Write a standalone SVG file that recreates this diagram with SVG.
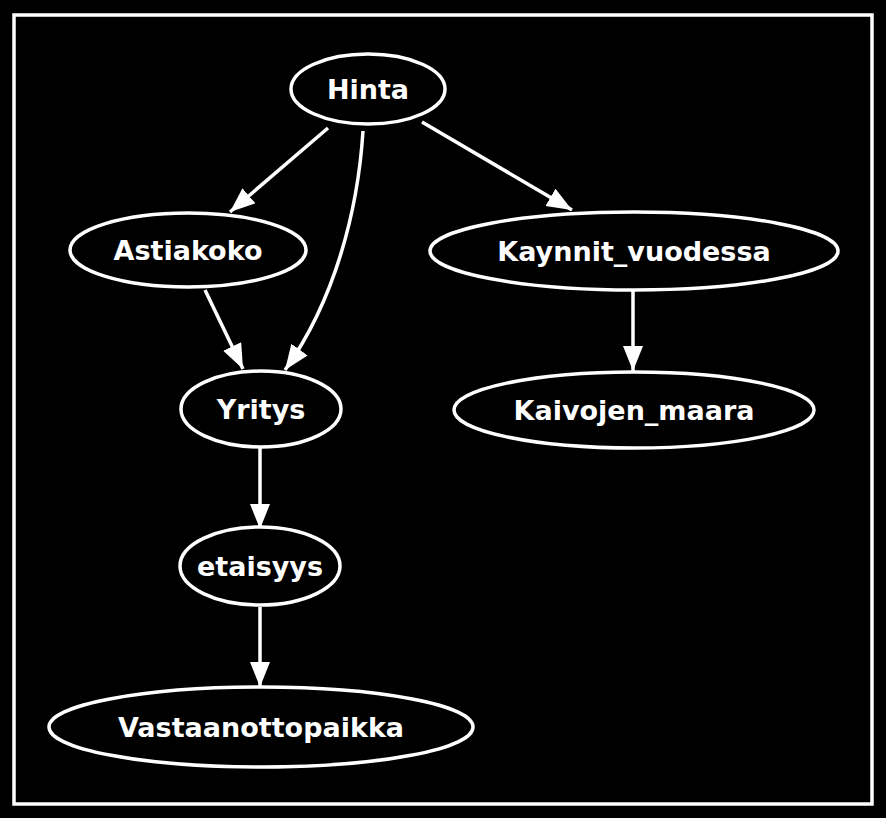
<svg xmlns="http://www.w3.org/2000/svg" width="886" height="818" viewBox="0 0 886 818">
<style>
.n ellipse{fill:#000;stroke:#fff;stroke-width:3.5}
.n text{fill:#fff;font-family:"DejaVu Sans",Verdana,sans-serif;font-weight:bold;font-size:27px;text-anchor:middle}
.e path{fill:none;stroke:#fff;stroke-width:3.5;marker-end:url(#ah)}
</style>
<defs>
<marker id="ah" markerUnits="userSpaceOnUse" markerWidth="27" markerHeight="22" refX="25" refY="10" orient="auto">
<path d="M0,0 L25,10 L0,20 Z" fill="#fff"/>
</marker>
</defs>
<rect x="0" y="0" width="886" height="818" fill="#000"/>
<rect x="14" y="15" width="858" height="789" fill="none" stroke="#fff" stroke-width="3.5"/>
<g class="e" id="edges">
<path d="M328,128 L230,212"/>
<path d="M363,131 C358,210 335,300 285,370"/>
<path d="M422,122 L572,210"/>
<path d="M205,290 L243,369"/>
<path d="M633,290 L633,371"/>
<path d="M260,448 L260,529"/>
<path d="M260,607 L260,687"/>
</g>
<g class="n" id="Hinta"><ellipse cx="368" cy="89" rx="77" ry="35"/><text x="368" y="99">Hinta</text></g>
<g class="n" id="Astiakoko"><ellipse cx="188" cy="250" rx="118" ry="37"/><text x="188" y="260">Astiakoko</text></g>
<g class="n" id="Kaynnit_vuodessa"><ellipse cx="634" cy="251" rx="204" ry="39"/><text x="634" y="261">Kaynnit_vuodessa</text></g>
<g class="n" id="Yritys"><ellipse cx="261" cy="409" rx="80" ry="38"/><text x="261" y="419">Yritys</text></g>
<g class="n" id="Kaivojen_maara"><ellipse cx="634" cy="410" rx="180" ry="38"/><text x="634" y="420">Kaivojen_maara</text></g>
<g class="n" id="etaisyys"><ellipse cx="260" cy="566" rx="80" ry="39"/><text x="260" y="576">etaisyys</text></g>
<g class="n" id="Vastaanottopaikka"><ellipse cx="261" cy="727" rx="212" ry="40"/><text x="261" y="737">Vastaanottopaikka</text></g>
</svg>
